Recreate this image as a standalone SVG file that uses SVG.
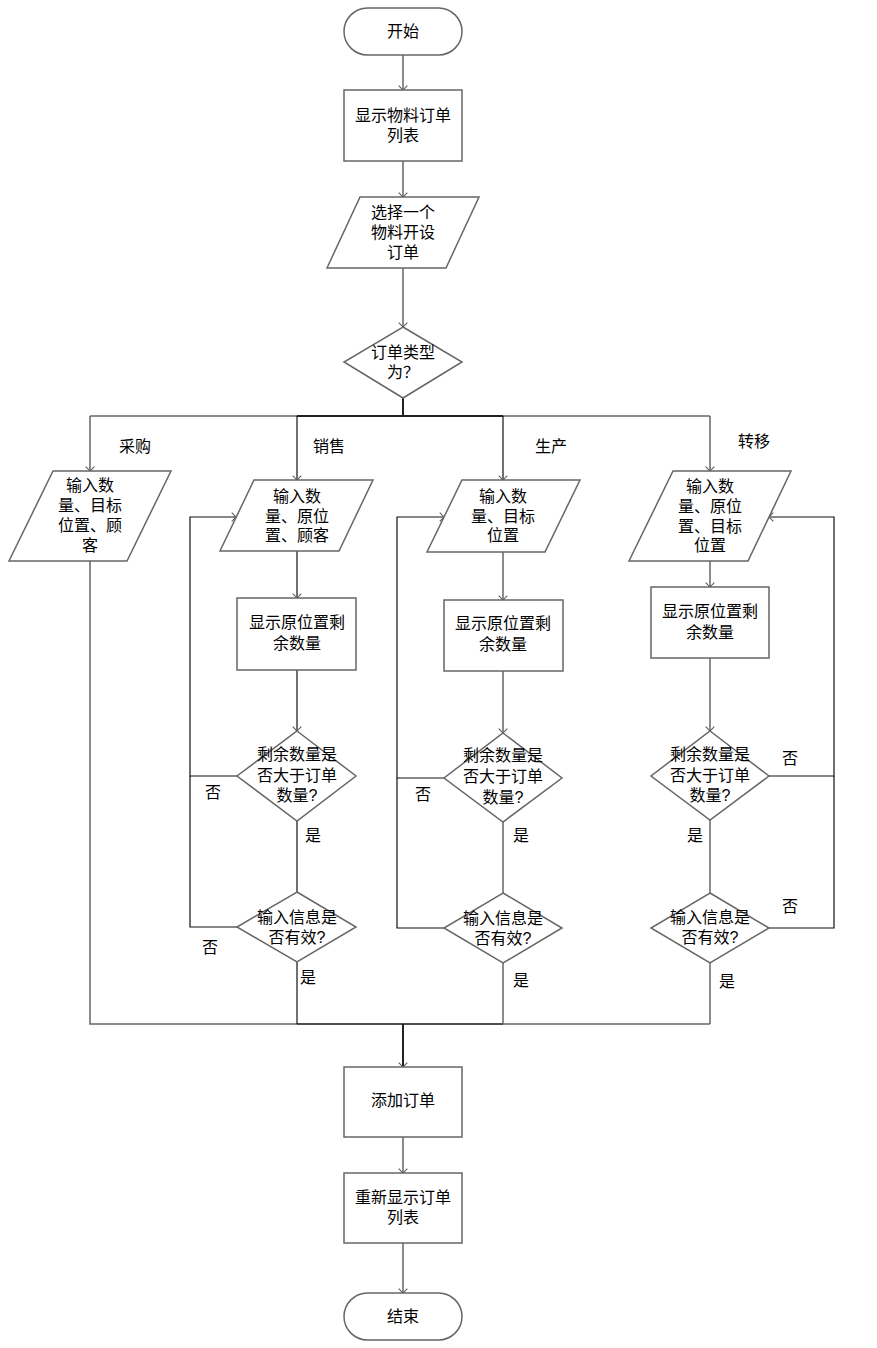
<svg xmlns="http://www.w3.org/2000/svg" width="877" height="1348" viewBox="0 0 877 1348">
<defs>
<style>
.s{fill:#fff;stroke:#666;stroke-width:1.5}
.t{font-family:"Liberation Sans","Noto Sans CJK SC",sans-serif;font-size:16px;fill:#000;text-anchor:middle;dominant-baseline:central}
.c{fill:none;stroke:#666;stroke-width:1.5}
.k{fill:none;stroke:#111;stroke-width:1.2}
.b{fill:none;stroke:#222;stroke-width:2}
</style>
<marker id="a" markerUnits="userSpaceOnUse" markerWidth="12" markerHeight="12" refX="0" refY="0" viewBox="-7 -7 14 14" orient="auto" overflow="visible">
<path d="M-5,-5 L0,0 L-5,5" fill="none" stroke="#555" stroke-width="1.2"/>
</marker>
</defs>
<rect width="877" height="1348" fill="#fff"/>
<g id="connectors">
<path class="c" d="M403,55 V90" marker-end="url(#a)"/>
<path class="c" d="M403,161 V197" marker-end="url(#a)"/>
<path class="c" d="M403,268 V327" marker-end="url(#a)"/>
<path class="b" d="M403,398 V416"/>
<path class="c" d="M90,416 H710"/>
<path class="b" d="M297,416 H503"/>
<path class="c" d="M90,416 V471" marker-end="url(#a)"/>
<path class="k" d="M297,416 V480" marker-end="url(#a)"/>
<path class="k" d="M503,416 V480" marker-end="url(#a)"/>
<path class="c" d="M710,416 V471" marker-end="url(#a)"/>
<path class="c" d="M90,561 V1024 H710"/>
<path class="k" d="M297,1024 H503"/>
<path class="k" d="M297,551 V598" marker-end="url(#a)"/>
<path class="k" d="M297,670 V731" marker-end="url(#a)"/>
<path class="k" d="M297,821 V892"/>
<path class="k" d="M297,962 V1024"/>
<path class="k" d="M237,776 H190 V517 H236" marker-end="url(#a)"/>
<path class="k" d="M237,927 H190 V776"/>
<path class="c" d="M503,552 V600" marker-end="url(#a)"/>
<path class="c" d="M503,671 V733" marker-end="url(#a)"/>
<path class="c" d="M503,822 V893"/>
<path class="c" d="M503,963 V1024"/>
<path class="k" d="M444,778 H397 V517 H444" marker-end="url(#a)"/>
<path class="k" d="M444,928 H397 V778"/>
<path class="c" d="M710,561 V587" marker-end="url(#a)"/>
<path class="c" d="M710,658 V731" marker-end="url(#a)"/>
<path class="c" d="M710,820 V893"/>
<path class="c" d="M710,963 V1024"/>
<path class="k" d="M769,776 H834 V517 H769" marker-end="url(#a)"/>
<path class="k" d="M769,928 H834 V776"/>
<path class="b" d="M403,1024 V1067" marker-end="url(#a)"/>
<path class="c" d="M403,1137 V1173" marker-end="url(#a)"/>
<path class="c" d="M403,1243 V1293" marker-end="url(#a)"/>
<text class="t" x="135" y="446">采购</text>
<text class="t" x="329" y="446">销售</text>
<text class="t" x="551" y="446">生产</text>
<text class="t" x="754" y="441">转移</text>
<text class="t" x="213" y="792">否</text>
<text class="t" x="313" y="835">是</text>
<text class="t" x="210" y="947">否</text>
<text class="t" x="308" y="977">是</text>
<text class="t" x="423" y="794">否</text>
<text class="t" x="521" y="835">是</text>
<text class="t" x="521" y="980">是</text>
<text class="t" x="790" y="758">否</text>
<text class="t" x="695" y="835">是</text>
<text class="t" x="790" y="906">否</text>
<text class="t" x="727" y="981">是</text>
</g>
<g id="start">
<rect class="s" x="344" y="8" width="118" height="47" rx="23.5"/>
<text class="t" x="403" y="31">开始</text>
</g>
<g id="showList">
<rect class="s" x="344" y="90" width="118" height="71"/>
<text class="t" x="403" y="115">显示物料订单</text>
<text class="t" x="403" y="135">列表</text>
</g>
<g id="selectMaterial">
<polygon class="s" points="360,197 479,197 446,268 327,268"/>
<text class="t" x="403" y="212">选择一个</text>
<text class="t" x="403" y="232">物料开设</text>
<text class="t" x="403" y="252">订单</text>
</g>
<g id="orderType">
<polygon class="s" points="403,327 462,362 403,398 344,362"/>
<text class="t" x="403" y="352">订单类型</text>
<text class="t" x="403" y="372">为？</text>
</g>
<g id="purchaseInput">
<polygon class="s" points="53,471 171,471 127,561 9,561"/>
<text class="t" x="90" y="485">输入数</text>
<text class="t" x="90" y="505">量、目标</text>
<text class="t" x="90" y="525">位置、顾</text>
<text class="t" x="90" y="545">客</text>
</g>
<g id="salesInput">
<polygon class="s" points="254,480 373,480 339,551 220,551"/>
<text class="t" x="297" y="496">输入数</text>
<text class="t" x="297" y="516">量、原位</text>
<text class="t" x="297" y="535">置、顾客</text>
</g>
<g id="salesShow">
<rect class="s" x="237" y="598" width="119" height="72"/>
<text class="t" x="297" y="622">显示原位置剩</text>
<text class="t" x="297" y="643">余数量</text>
</g>
<g id="salesCheckQty">
<polygon class="s" points="297,731 356,776 297,821 237,776"/>
<text class="t" x="297" y="754">剩余数量是</text>
<text class="t" x="297" y="775">否大于订单</text>
<text class="t" x="297" y="795">数量?</text>
</g>
<g id="salesValid">
<polygon class="s" points="297,892 356,927 297,962 237,927"/>
<text class="t" x="297" y="917">输入信息是</text>
<text class="t" x="297" y="937">否有效?</text>
</g>
<g id="prodInput">
<polygon class="s" points="462,480 580,480 545,552 427,552"/>
<text class="t" x="503" y="496">输入数</text>
<text class="t" x="503" y="516">量、目标</text>
<text class="t" x="503" y="535">位置</text>
</g>
<g id="prodShow">
<rect class="s" x="444" y="600" width="119" height="71"/>
<text class="t" x="503" y="623">显示原位置剩</text>
<text class="t" x="503" y="644">余数量</text>
</g>
<g id="prodCheckQty">
<polygon class="s" points="503,733 562,778 503,822 444,778"/>
<text class="t" x="503" y="755">剩余数量是</text>
<text class="t" x="503" y="776">否大于订单</text>
<text class="t" x="503" y="797">数量?</text>
</g>
<g id="prodValid">
<polygon class="s" points="503,893 562,928 503,963 444,928"/>
<text class="t" x="503" y="918">输入信息是</text>
<text class="t" x="503" y="938">否有效?</text>
</g>
<g id="transferInput">
<polygon class="s" points="673,471 791,471 748,561 629,561"/>
<text class="t" x="710" y="486">输入数</text>
<text class="t" x="710" y="506">量、原位</text>
<text class="t" x="710" y="526">置、目标</text>
<text class="t" x="710" y="545">位置</text>
</g>
<g id="transferShow">
<rect class="s" x="651" y="587" width="118" height="71"/>
<text class="t" x="710" y="611">显示原位置剩</text>
<text class="t" x="710" y="632">余数量</text>
</g>
<g id="transferCheckQty">
<polygon class="s" points="710,731 769,776 710,820 651,776"/>
<text class="t" x="710" y="754">剩余数量是</text>
<text class="t" x="710" y="775">否大于订单</text>
<text class="t" x="710" y="795">数量?</text>
</g>
<g id="transferValid">
<polygon class="s" points="710,893 769,928 710,963 651,928"/>
<text class="t" x="710" y="917">输入信息是</text>
<text class="t" x="710" y="937">否有效?</text>
</g>
<g id="addOrder">
<rect class="s" x="344" y="1067" width="118" height="70"/>
<text class="t" x="403" y="1100">添加订单</text>
</g>
<g id="refreshList">
<rect class="s" x="344" y="1173" width="118" height="70"/>
<text class="t" x="403" y="1197">重新显示订单</text>
<text class="t" x="403" y="1217">列表</text>
</g>
<g id="end">
<rect class="s" x="344" y="1293" width="118" height="47" rx="23.5"/>
<text class="t" x="403" y="1316">结束</text>
</g>
</svg>
